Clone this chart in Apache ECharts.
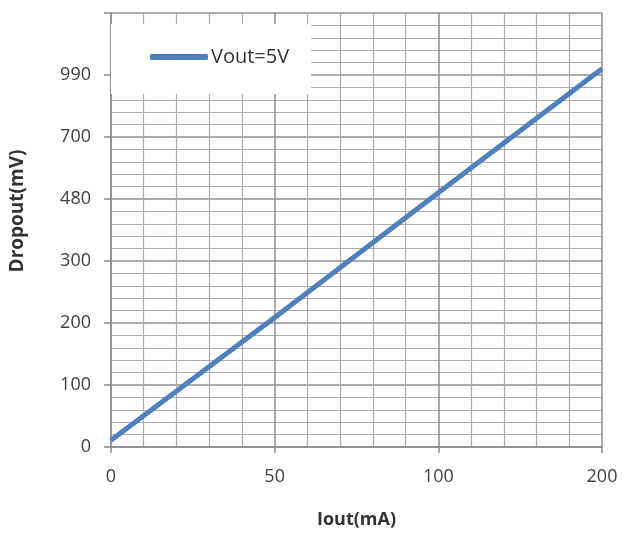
<!DOCTYPE html>
<html>
<head>
<meta charset="utf-8">
<script src="https://cdn.jsdelivr.net/npm/echarts@6/dist/echarts.min.js"></script>
<style>
  html, body { margin: 0; padding: 0; background: #fff; }
  #chart { width: 622px; height: 534px; }
</style>
</head>
<body>
<div id="chart"></div>
<script>
// tick labels sit evenly spaced on both axes, so the series is kept in grid positions
const xLabels = ['0', '50', '100', '200']
const yLabels = ['0', '100', '200', '300', '480', '700', '990', '']
// Vout=5V curve (x in x-label steps, y in y-label steps)
const lineX = [0, 1, 2, 3]
const lineY = [0.11, 2.09, 4.1, 6.1]
const seriesName = 'Vout=5V'

const chart = echarts.init(document.getElementById('chart'))
const font = 'Open Sans'
const lineColor = '#4f7fbc'

chart.setOption({
  animation: false,
  grid: { left: 111, right: 20, top: 13, bottom: 87 },
  legend: {
    left: 111,
    top: 24,
    backgroundColor: '#fff',
    padding: [23, 22, 27, 39],
    itemWidth: 58,
    itemHeight: 6,
    itemGap: 0,
    textStyle: { fontFamily: font, fontSize: 20, color: '#333', padding: [0, 0, 0, -2] },
    data: [{ name: seriesName, icon: 'roundRect' }]
  },
  xAxis: {
    type: 'value',
    min: 0,
    max: xLabels.length - 1,
    interval: 1,
    name: 'Iout(mA)',
    nameLocation: 'middle',
    nameGap: 64,
    nameTextStyle: { fontFamily: font, fontSize: 18, fontWeight: 'bold', color: '#333' },
    axisLine: { show: true, lineStyle: { color: '#8a8a8a', width: 1.5 } },
    axisTick: { show: true, inside: false, length: 6, lineStyle: { color: '#8a8a8a', width: 1.5 } },
    minorTick: { show: true, splitNumber: 5, length: 0 },
    axisLabel: {
      margin: 21,
      fontFamily: font,
      fontSize: 18,
      color: '#404040',
      formatter: v => xLabels[Math.round(v)]
    },
    splitLine: { show: true, lineStyle: { color: '#8f8f8f', width: 1.5 } },
    minorSplitLine: { show: true, lineStyle: { color: '#ababab', width: 1.2 } }
  },
  yAxis: {
    type: 'value',
    min: 0,
    max: yLabels.length - 1,
    interval: 1,
    name: 'Dropout(mV)',
    nameLocation: 'middle',
    nameGap: 84,
    nameTextStyle: { fontFamily: font, fontSize: 19, fontWeight: 'bold', color: '#333', padding: [0, 0, 0, 38] },
    axisLine: { show: true, lineStyle: { color: '#8a8a8a', width: 1.5 } },
    axisTick: { show: true, inside: false, length: 7, lineStyle: { color: '#8a8a8a', width: 1.5 } },
    minorTick: { show: true, splitNumber: 5, length: 0 },
    axisLabel: {
      margin: 20,
      fontFamily: font,
      fontSize: 18,
      color: '#404040',
      formatter: v => yLabels[Math.round(v)]
    },
    splitLine: { show: true, lineStyle: { color: '#8f8f8f', width: 1.5 } },
    minorSplitLine: { show: true, lineStyle: { color: '#ababab', width: 1.2 } }
  },
  series: [
    {
      name: seriesName,
      type: 'line',
      symbol: 'none',
      lineStyle: { color: lineColor, width: 5 },
      itemStyle: { color: lineColor },
      data: lineX.map((x, i) => [x, lineY[i]])
    }
  ]
})
</script>
</body>
</html>
